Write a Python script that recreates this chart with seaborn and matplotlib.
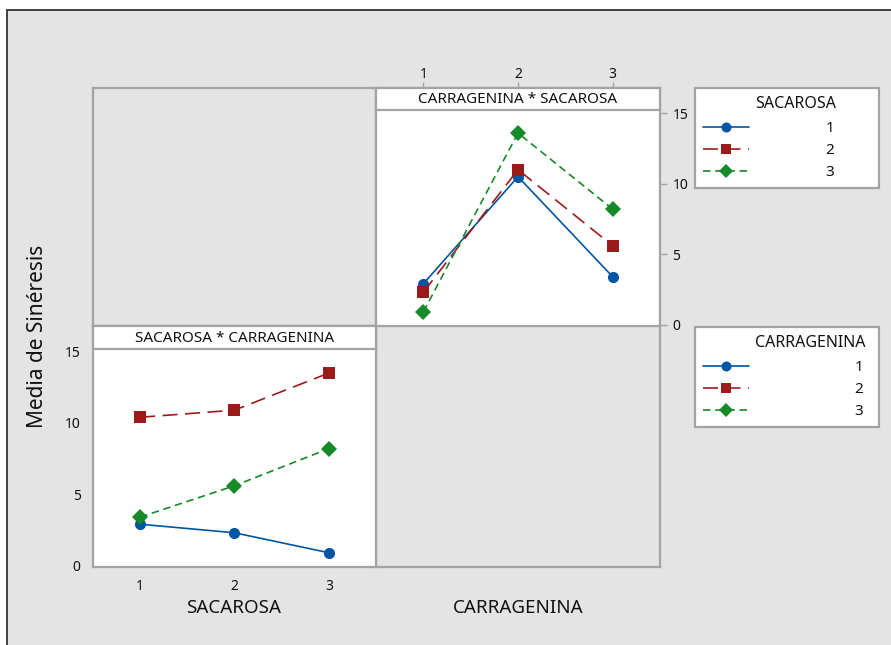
import numpy as np
import pandas as pd
import matplotlib
matplotlib.use("Agg")
import matplotlib.pyplot as plt
from matplotlib.patches import Rectangle
import seaborn as sns

# ---- data ----
levels = [1, 2, 3]
# top-right panel: x = CARRAGENINA, series = SACAROSA
sac1_by_carr = [2.9, 10.5, 3.4]
sac2_by_carr = [2.3, 11.0, 5.6]
sac3_by_carr = [0.9, 13.6, 8.2]
# bottom-left panel: x = SACAROSA, series = CARRAGENINA
carr1_by_sac = [2.9, 2.3, 0.9]
carr2_by_sac = [10.4, 10.9, 13.5]
carr3_by_sac = [3.4, 5.6, 8.2]
y_ticks = [0, 5, 10, 15]

sns.set_style("white")
plt.rcParams["font.family"] = ["Noto Sans", "DejaVu Sans"]

W, H = 891, 645
fig = plt.figure(figsize=(W / 100, H / 100), dpi=100)
fig.patch.set_facecolor("white")

GRAY = "#e4e4e4"
SPINE = "#a3a3a3"
TXT = "#111111"
colors = {1: "#0055a5", 2: "#9b1b1b", 3: "#168a28"}
markers = {1: "o", 2: "s", 3: "D"}
dashes = {1: "", 2: (9, 4.5), 3: (4.5, 2.8)}

# outer gray background with dark border (left/top)
fig.patches.append(Rectangle((7 / W, -0.1), 1.2, (H - 10) / H + 0.1,
                             transform=fig.transFigure, facecolor=GRAY,
                             edgecolor="#333333", lw=1.3, zorder=-10))


def px_axes(x0, y0, x1, y1):
    return fig.add_axes([x0 / W, 1 - y1 / H, (x1 - x0) / W, (y1 - y0) / H])


def style_spines(ax):
    for s in ax.spines.values():
        s.set_color(SPINE)
        s.set_linewidth(1.6)


# empty panels
for (x0, y0, x1, y1) in [(93, 88, 376, 326), (376, 326, 660, 567)]:
    a = px_axes(x0, y0, x1, y1)
    a.set_facecolor(GRAY)
    a.set_xticks([]); a.set_yticks([])
    style_spines(a)

df_tr = pd.DataFrame({
    "CARRAGENINA": levels * 3,
    "SACAROSA": [1] * 3 + [2] * 3 + [3] * 3,
    "Media": sac1_by_carr + sac2_by_carr + sac3_by_carr,
})
df_bl = pd.DataFrame({
    "SACAROSA": levels * 3,
    "CARRAGENINA": [1] * 3 + [2] * 3 + [3] * 3,
    "Media": carr1_by_sac + carr2_by_sac + carr3_by_sac,
})


def draw_panel(ax, df, xvar, hvar, title, header_px, total_px):
    sns.lineplot(data=df, x=xvar, y="Media", hue=hvar, style=hvar,
                 palette=colors, markers=markers, dashes=dashes,
                 markersize=8, linewidth=1.2, markeredgewidth=0,
                 ax=ax, legend=True)
    h, l = ax.get_legend_handles_labels()
    ax.get_legend().remove()
    ax.set_xlim(0.5, 3.5)
    ax.set_ylim(-0.1, 16.8)
    ax.set_xticks(levels)
    ax.set_yticks(y_ticks)
    ax.set_xlabel(""); ax.set_ylabel("")
    ax.set_facecolor("white")
    style_spines(ax)
    ax.tick_params(axis="both", which="both", direction="out", length=5,
                   width=1, color=SPINE, labelsize=10, labelcolor=TXT,
                   pad=4)
    frac = header_px / total_px
    ax.add_patch(Rectangle((0, 1 - frac), 1, frac, transform=ax.transAxes,
                           facecolor="white", edgecolor=SPINE, lw=1.6,
                           zorder=5, clip_on=False))
    ax.text(0.5, 1 - frac / 2 - 0.003, title, transform=ax.transAxes,
            ha="center", va="center", fontsize=11, color=TXT, zorder=6)
    return h, l


ax_tr = px_axes(376, 88, 660, 326)
h1, l1 = draw_panel(ax_tr, df_tr, "CARRAGENINA", "SACAROSA",
                    "CARRAGENINA * SACAROSA", 22, 238)
ax_tr.xaxis.tick_top()
ax_tr.yaxis.tick_right()
ax_tr.tick_params(axis="x", length=4, pad=0)

ax_bl = px_axes(93, 326, 376, 567)
h2, l2 = draw_panel(ax_bl, df_bl, "SACAROSA", "CARRAGENINA",
                    "SACAROSA * CARRAGENINA", 23, 241)

# axis titles
fig.text(234 / W, 1 - 608 / H, "SACAROSA", ha="center", va="center",
         fontsize=13.5, color=TXT)
fig.text(518 / W, 1 - 608 / H, "CARRAGENINA", ha="center", va="center",
         fontsize=13.5, color=TXT)
fig.text(38 / W, 1 - 336 / H, "Media de Sinéresis", ha="center",
         va="center", rotation=90, fontsize=15, color=TXT)


def make_legend(handles, labels, title, y_top, textpad):
    leg = fig.legend(handles, labels, title=" ", loc="upper left",
                     bbox_to_anchor=(695 / W, 1 - y_top / H - 0.2,
                                     184 / W, 0.2),
                     mode="expand", markerscale=0.9,
                     frameon=True, fancybox=False, framealpha=1,
                     fontsize=11, title_fontsize=13, handlelength=3.0,
                     handletextpad=textpad, labelspacing=0.45,
                     borderpad=0.55, borderaxespad=0)
    fr = leg.get_frame()
    fr.set_edgecolor(SPINE)
    fr.set_linewidth(1.6)
    fr.set_facecolor("white")
    for t in leg.get_texts():
        t.set_color(TXT)
    fig.text(755 / W, 1 - (y_top + 16) / H, title, ha="left", va="center",
             fontsize=11.5, color=TXT, zorder=10)
    return leg


make_legend(h1, l1, "SACAROSA", 88, 5.0)
make_legend(h2, l2, "CARRAGENINA", 327, 6.9)

fig.savefig("out.png", dpi=100)
